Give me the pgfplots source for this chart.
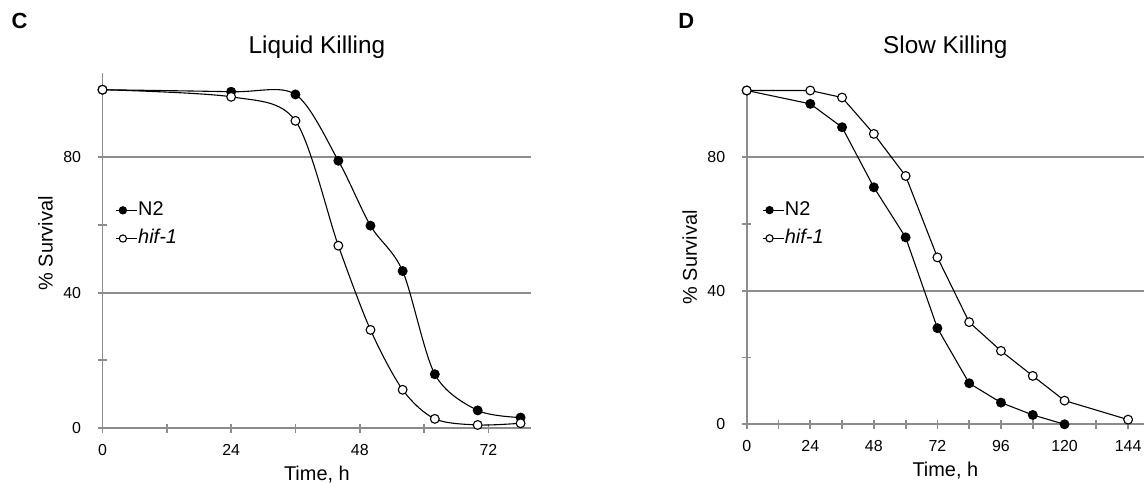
\documentclass[border=0pt]{standalone}
\usepackage{fontspec}
\setmainfont{Liberation Sans}
\usepackage{pgfplots}
\pgfplotsset{compat=1.18}
\definecolor{axgray}{RGB}{140,140,140}

\pgfplotsset{
  survbase/.style={
    scale only axis,
    axis x line=bottom, axis y line=left,
    axis line style={draw=axgray, line width=0.9bp, -},
    xmin=0, ymin=0,
    ytick={0,40,80}, yticklabels={0,40,80},
    minor ytick={20,60,100},
    ymajorgrids,
    major grid style={draw=axgray, line width=0.9bp},
    tick align=center,
    major tick length=4.5bp, minor tick length=4.5bp,
    tick style={draw=axgray, line width=0.9bp},
    tick label style={font=\fontsize{8}{9.6}\selectfont, text=black},
    xticklabel style={anchor=north, inner sep=0pt, yshift=-5.6bp},
    yticklabel style={anchor=east, inner sep=0pt, xshift=-8.3bp},
    xlabel={Time, h}, ylabel={\% Survival},
    xlabel style={font=\fontsize{10.3}{12}\selectfont},
    ylabel style={font=\fontsize{9}{11}\selectfont},
    clip=false,
    legend cell align=left,
    legend style={draw=none, fill=none, inner sep=0pt, anchor=north west,
      font=\fontsize{10}{12}\selectfont, row sep=2.7bp,
      nodes={inner xsep=0.4bp, inner ysep=1bp, text height=7.4bp, text depth=2bp}},
    legend image code/.code={\draw[#1, mark repeat=3, mark phase=2, mark size=1.8bp]
       plot coordinates {(-2bp,0bp) (1.5bp,0bp) (8.5bp,0bp)};},
  },
  n2/.style={black, line width=0.55bp, mark=*, mark size=2.2bp, mark options={fill=black, solid}},
  hif/.style={black, line width=0.55bp, mark=*, mark size=2.2bp, mark options={fill=white, solid}},
}

\begin{document}
\begin{tikzpicture}
\useasboundingbox (0,0) rectangle (572bp,-241.5bp);

\node[anchor=base west, inner sep=0pt, font=\fontsize{11}{13}\selectfont\bfseries] at (5.6bp,-14.2bp) {C};
\node[anchor=base west, inner sep=0pt, font=\fontsize{11}{13}\selectfont\bfseries] at (339bp,-14.2bp) {D};

% Left: Liquid Killing
\begin{axis}[survbase,
  at={(51.25bp,-214bp)}, anchor=south west,
  width=214.4bp, height=177.6bp,
  xmax=80, ymax=105,
  xtick={0,24,48,72}, xticklabels={0,24,48,72},
  minor xtick={12,36,60},
  title={Liquid Killing},
  every axis title/.style={at={(axis description cs:0.5,1)}, anchor=base, yshift=9.75bp, font=\fontsize{12.2}{14}\selectfont},
  every axis x label/.style={at={(axis description cs:0.5,-0.1464)}, anchor=base},
  every axis y label/.style={at={(axis description cs:-0.133,0.52)}, anchor=center, rotate=90},
  legend style={at={(axis description cs:0.029,0.646)}},
]
\addplot[n2, smooth] coordinates {(0,100) (24,99.4) (36,98.6) (44,79.0) (50,59.8) (56,46.4) (62,15.9) (70,5.2) (78,3.1)};
\addlegendentry{N2}
\addplot[hif, smooth] coordinates {(0,100) (24,97.9) (36,90.8) (44,53.9) (50,29.0) (56,11.3) (62,2.7) (70,0.9) (78,1.4)};
\addlegendentry{\textit{hif-1}}
\end{axis}

% Right: Slow Killing
\begin{axis}[survbase,
  at={(373.35bp,-212.15bp)}, anchor=south west,
  width=198.65bp, height=166.9bp,
  xmax=150, ymax=100,
  xtick={0,24,48,72,96,120,144}, xticklabels={0,24,48,72,96,120,144},
  minor xtick={12,36,60,84,108,132},
  title={Slow Killing},
  every axis title/.style={at={(axis description cs:0.5,1)}, anchor=base, yshift=18.6bp, font=\fontsize{12.2}{14}\selectfont},
  every axis x label/.style={at={(axis description cs:0.5,-0.156)}, anchor=base},
  every axis y label/.style={at={(axis description cs:-0.1435,0.5)}, anchor=center, rotate=90},
  legend style={at={(axis description cs:0.0375,0.677)}},
]
\addplot[n2] coordinates {(0,100) (24,96.0) (36,89.0) (48,71.0) (60,56.0) (72,28.8) (84,12.3) (96,6.5) (108,2.8) (120,0)};
\addlegendentry{N2}
\addplot[hif] coordinates {(0,100) (24,100) (36,97.9) (48,87.0) (60,74.4) (72,50.0) (84,30.6) (96,22.0) (108,14.5) (120,7.1) (144,1.4)};
\addlegendentry{\textit{hif-1}}
\end{axis}
\end{tikzpicture}
\end{document}
